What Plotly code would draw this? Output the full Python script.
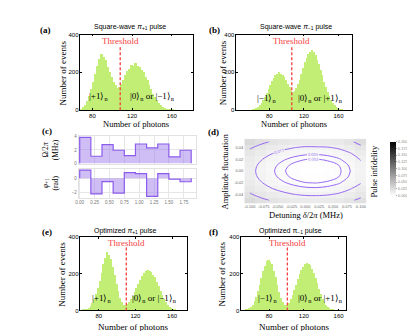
import plotly.graph_objects as go

W, H = 415, 331
SERIF = "Liberation Serif"
SANS = "Liberation Sans"
GREEN = "rgb(194,238,118)"
RED = "rgb(244,62,62)"
PURPLE = "rgb(140,92,236)"
PURPLE_FILL = "rgba(160,125,235,0.5)"
CONTOUR = "rgb(150,105,242)"

# ---- data ---------------------------------------------------------------
# photon-count histograms, 2-photon bins (bin centres / counts)
a_bins = list(range(64, 172, 2))
a_counts = [2, 4, 7, 11, 19, 31, 50, 76, 112, 152, 196, 238, 272, 298, 284, 266,
            231, 204, 176, 150, 133, 120, 126, 142, 163, 186, 209, 220, 240, 236,
            252, 238, 233, 216, 206, 180, 162, 134, 114, 88, 73, 54, 41, 30, 21,
            15, 10, 7, 5, 4, 3, 2, 1, 1]
a_threshold = 108

b_bins = list(range(60, 170, 2))
b_counts = [2, 4, 7, 12, 18, 28, 41, 55, 73, 92, 113, 134, 156, 170, 187, 193,
            202, 196, 191, 176, 161, 139, 123, 106, 99, 105, 117, 141, 164, 196,
            224, 256, 279, 302, 310, 320, 308, 296, 270, 246, 213, 186, 153, 126,
            97, 76, 54, 40, 28, 18, 12, 7, 4, 2, 1]
b_threshold = 106

e_bins = list(range(62, 170, 2))
e_counts = [2, 4, 6, 10, 16, 27, 41, 61, 89, 121, 162, 204, 252, 288, 318, 302,
            283, 238, 196, 146, 106, 69, 46, 33, 29, 37, 47, 63, 79, 101, 121,
            146, 166, 190, 203, 217, 221, 214, 212, 196, 181, 156, 133, 107, 86,
            63, 47, 31, 22, 14, 9, 5, 3, 1]
e_threshold = 110

f_bins = list(range(52, 162, 2))
f_counts = [2, 4, 7, 12, 21, 33, 51, 76, 104, 142, 178, 216, 243, 268, 276, 266,
            252, 218, 182, 139, 101, 67, 46, 33, 28, 33, 44, 63, 84, 113, 139,
            171, 197, 223, 238, 254, 259, 253, 246, 226, 206, 176, 149, 117, 91,
            65, 47, 31, 20, 13, 8, 5, 3, 2, 1]
f_threshold = 101

# (c) optimized pulse segments
seg_edges = [0.0, 0.1875, 0.375, 0.5625, 0.75, 0.9375, 1.125, 1.3125, 1.5, 1.6875, 1.875]
rabi_mhz = [3.9, 1.05, 2.8, 1.95, 1.15, 2.9, 2.3, 2.9, 0.95, 1.95]
phase_rad = [1.16, -2.23, -0.47, -2.1, 0.8, 0.65, -2.56, 0.65, -0.14, -0.5]
c_xticks = [0.0, 0.25, 0.5, 0.75, 1.0, 1.25, 1.5, 1.75]

# (d) pulse infidelity vs detuning / amplitude fluctuation
detuning = [-0.10, -0.08, -0.06, -0.04, -0.02, 0.0, 0.02, 0.04, 0.06, 0.08, 0.10]
amp_fluct = [-0.05, -0.04, -0.03, -0.02, -0.01, 0.0, 0.01, 0.02, 0.03, 0.04, 0.05]
infidelity = [
    [0.0288, 0.0246, 0.0212, 0.0186, 0.0168, 0.0158, 0.0156, 0.0162, 0.0176, 0.0204, 0.0246],
    [0.0232, 0.0190, 0.0156, 0.0130, 0.0112, 0.0102, 0.0100, 0.0106, 0.0120, 0.0148, 0.0190],
    [0.0188, 0.0146, 0.0112, 0.0086, 0.0068, 0.0058, 0.0056, 0.0062, 0.0076, 0.0104, 0.0146],
    [0.0157, 0.0115, 0.0081, 0.0055, 0.0037, 0.0027, 0.0025, 0.0031, 0.0045, 0.0073, 0.0105],
    [0.0138, 0.0096, 0.0062, 0.0036, 0.0018, 0.0008, 0.0006, 0.0012, 0.0026, 0.0054, 0.0094],
    [0.0132, 0.0090, 0.0056, 0.0030, 0.0012, 0.0002, 0.0000, 0.0006, 0.0020, 0.0048, 0.0090],
    [0.0138, 0.0096, 0.0062, 0.0036, 0.0018, 0.0008, 0.0006, 0.0012, 0.0026, 0.0054, 0.0096],
    [0.0157, 0.0115, 0.0081, 0.0055, 0.0037, 0.0027, 0.0025, 0.0031, 0.0045, 0.0073, 0.0115],
    [0.0188, 0.0146, 0.0112, 0.0086, 0.0068, 0.0058, 0.0056, 0.0062, 0.0076, 0.0104, 0.0146],
    [0.0232, 0.0190, 0.0156, 0.0130, 0.0112, 0.0102, 0.0104, 0.0106, 0.0120, 0.0148, 0.0200],
    [0.0288, 0.0246, 0.0212, 0.0186, 0.0168, 0.0158, 0.0156, 0.0162, 0.0176, 0.0204, 0.0256],
]
contour_levels = [0.0026, 0.005, 0.011, 0.022]
d_xticks = [-0.1, -0.075, -0.05, -0.025, 0.0, 0.025, 0.05, 0.075, 0.1]
d_yticks = [-0.04, -0.02, 0.0, 0.02, 0.04]
cbar_ticks = [0.0, 0.025, 0.05, 0.075, 0.1, 0.125, 0.15, 0.175, 0.2]


def X(px):
    return px / W


def Y(py):
    return 1 - py / H


def note(text, px, py, size=9, color="black", family=SERIF, angle=0):
    return dict(text=text, x=X(px), y=Y(py), xref="paper", yref="paper",
                showarrow=False, textangle=angle, xanchor="center", yanchor="middle",
                font=dict(size=size, color=color, family=family))


fig = go.Figure()
layout = dict(width=W, height=H, margin=dict(l=0, r=0, t=0, b=0),
              paper_bgcolor="white", plot_bgcolor="white", showlegend=False,
              bargap=0)
shapes, annotations = [], []

frame = dict(showline=True, linecolor="black", linewidth=0.6, mirror="ticks",
             ticks="inside", ticklen=2, tickwidth=0.6, tickcolor="black",
             showgrid=False, zeroline=False,
             tickfont=dict(size=6, family=SANS, color="black"))

# ---- histogram panels ----------------------------------------------------
hists = [
    # n, bins, counts, threshold, x px, y px, x range
    (1, a_bins, a_counts, a_threshold, (70, 183), (24, 101), [68, 181]),
    (2, b_bins, b_counts, b_threshold, (227, 343), (24, 101), [42, 175]),
    (6, e_bins, e_counts, e_threshold, (70, 177), (230, 305), [60, 176]),
    (7, f_bins, f_counts, f_threshold, (232, 337), (230, 305), [48, 168]),
]
for n, bins, counts, thr, xp, yp, xr in hists:
    s = "" if n == 1 else str(n)
    fig.add_trace(go.Bar(x=bins, y=counts, width=2, marker=dict(color=GREEN, line=dict(width=0)),
                         xaxis="x" + s, yaxis="y" + s, hoverinfo="skip"))
    layout["xaxis" + s] = dict(domain=[X(xp[0]), X(xp[1])], range=xr, anchor="y" + s,
                               tickvals=[80, 120, 160], **frame)
    layout["yaxis" + s] = dict(domain=[Y(yp[1]), Y(yp[0])], range=[0, 400], anchor="x" + s,
                               tickvals=[0, 200, 400], **frame)
    shapes.append(dict(type="line", xref="x" + s, yref="y" + s, x0=thr, x1=thr, y0=0, y1=342,
                       line=dict(color=RED, width=1.3, dash="3px,2px")))
    annotations.append(dict(text="Threshold", x=thr, y=366, xref="x" + s, yref="y" + s,
                            showarrow=False, font=dict(size=9, color=RED, family=SERIF)))

# ---- (c) pulse shape -----------------------------------------------------
step_x = [seg_edges[0]] + seg_edges[:-1] + [seg_edges[-1], seg_edges[-1]]
for n, vals in [(3, rabi_mhz), (4, phase_rad)]:
    fig.add_trace(go.Scatter(x=step_x, y=[0] + vals + [vals[-1], 0], mode="lines",
                             line=dict(color=PURPLE, width=1.2, shape="hv"),
                             fill="tozeroy", fillcolor=PURPLE_FILL,
                             xaxis=f"x{n}", yaxis=f"y{n}", hoverinfo="skip"))

c_common = dict(showgrid=True, gridcolor="#e6e6e6", gridwidth=0.6, zeroline=False,
                showline=True, linecolor="#e2e2e2", linewidth=0.6, mirror=True, ticks="",
                tickfont=dict(size=4.5, family=SANS, color="#777"))
layout["xaxis3"] = dict(domain=[X(68), X(186)], range=[-0.02, 1.95], anchor="y3",
                        tickvals=c_xticks, showticklabels=False, **c_common)
layout["yaxis3"] = dict(domain=[Y(156), Y(127)], range=[-0.15, 4.15], anchor="x3",
                        tickvals=[0, 2, 4], **c_common)
layout["xaxis4"] = dict(domain=[X(68), X(186)], range=[-0.02, 1.95], anchor="y4",
                        tickvals=c_xticks, ticktext=[f"{t:.2f}" for t in c_xticks], **c_common)
layout["yaxis4"] = dict(domain=[Y(190), Y(161)], range=[-2.74, 1.3], anchor="x4",
                        tickvals=[-2, 0], **c_common)

# ---- (d) infidelity map --------------------------------------------------
fig.add_trace(go.Heatmap(x=detuning, y=amp_fluct, z=infidelity, zmin=0, zmax=0.2,
                         colorscale=[[0, "white"], [1, "black"]], xaxis="x5", yaxis="y5",
                         hoverinfo="skip",
                         colorbar=dict(x=X(372), xanchor="left", y=Y(160.5), yanchor="middle",
                                       len=75 / H, thickness=6, outlinewidth=0,
                                       tickvals=cbar_ticks, tickformat=".3f",
                                       ticks="outside", ticklen=1.5, tickcolor="#aaa",
                                       tickfont=dict(size=4, family=SANS, color="#888"))))
for lev in contour_levels:
    fig.add_trace(go.Contour(x=detuning, y=amp_fluct, z=infidelity, autocontour=False,
                             contours=dict(start=lev, end=lev, size=0.001, coloring="none",
                                           showlabels=True, labelformat=".3f",
                                           labelfont=dict(size=4, color=CONTOUR)),
                             line=dict(color=CONTOUR, width=1, smoothing=1.0),
                             showscale=False, xaxis="x5", yaxis="y5", hoverinfo="skip"))
d_common = dict(showgrid=False, zeroline=False, showline=False, ticks="", tickangle=0,
                tickfont=dict(size=4, family=SANS, color="#666"))
layout["xaxis5"] = dict(domain=[X(235), X(358)], range=[-0.11, 0.11], anchor="y5",
                        tickvals=d_xticks, ticktext=[f"{t:.3f}" for t in d_xticks], **d_common)
layout["yaxis5"] = dict(domain=[Y(196), Y(130)], range=[-0.055, 0.055], anchor="x5",
                        tickvals=d_yticks, ticktext=[f"{t:.2f}" for t in d_yticks], **d_common)

# ---- text ----------------------------------------------------------------
annotations += [
    note("<b>(a)</b>", 35, 19), note("<b>(b)</b>", 205, 19),
    note("<b>(c)</b>", 36, 122), note("<b>(d)</b>", 204, 123),
    note("<b>(e)</b>", 36, 225), note("<b>(f)</b>", 204, 225),
    note("Square-wave <i>π</i><sub>+1</sub> pulse", 120, 16, size=7, family=SANS),
    note("Square-wave <i>π</i><sub>−1</sub> pulse", 287, 16, size=7, family=SANS),
    note("Optimized <i>π</i><sub>+1</sub> pulse", 115, 224, size=7, family=SANS),
    note("Optimized π<sub>−1</sub> pulse", 282, 224, size=7, family=SANS),
    note("Number of events", 52, 63, angle=-90),
    note("Number of events", 213, 63, angle=-90),
    note("Number of events", 52, 268, angle=-90),
    note("Number of events", 213, 268, angle=-90),
    note("Number of photons", 126, 115, size=8.5),
    note("Number of photons", 285, 115, size=8.5),
    note("Number of photons", 123, 322),
    note("Number of photons", 285, 322),
    note("|+1⟩<sub>n</sub>", 88, 87), note("|0⟩<sub>n</sub> or |−1⟩<sub>n</sub>", 143, 87),
    note("|−1⟩<sub>n</sub>", 257, 89), note("|0⟩<sub>n</sub> or |+1⟩<sub>n</sub>", 312, 89),
    note("|+1⟩<sub>n</sub>", 91, 293), note("|0⟩<sub>n</sub> or |−1⟩<sub>n</sub>", 145, 293),
    note("|−1⟩<sub>n</sub>", 258, 293), note("|0⟩<sub>n</sub> or |+1⟩<sub>n</sub>", 312, 293),
    note("Ω/2<i>π</i><br>(MHz)", 40, 141, size=7.5, angle=-90),
    note("<i>φ</i><sub>+1</sub><br>(rad)", 40, 175, size=7.5, angle=-90),
    note("Amplitude fluctuation", 216, 163, size=8.5, angle=-90),
    note("Detuning <i>δ</i>/2<i>π</i> (MHz)", 297, 208, size=8.5),
    note("Pulse infidelity", 366, 163, size=8.5, angle=-90),
]

layout["shapes"] = shapes
layout["annotations"] = annotations
fig.update_layout(**layout)
fig.write_html("out.html")
